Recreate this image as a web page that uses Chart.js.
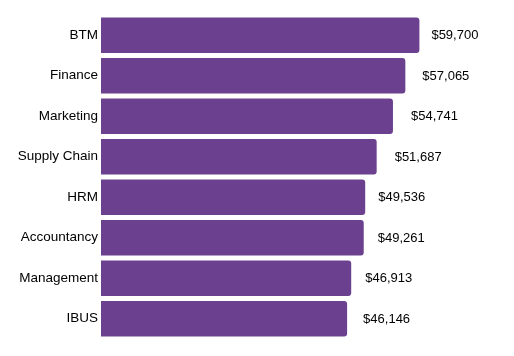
<!DOCTYPE html>
<html>
<head>
<meta charset="utf-8">
<script src="https://cdn.jsdelivr.net/npm/chart.js@4"></script>
<style>
html,body{margin:0;padding:0;background:#fff;}
#wrap{width:514px;height:356px;position:relative;}
</style>
</head>
<body>
<div id="wrap"><canvas id="c" width="514" height="356"></canvas></div>
<script>
const categories = ["BTM", "Finance", "Marketing", "Supply Chain", "HRM", "Accountancy", "Management", "IBUS"];
const salaries = [59700, 57065, 54741, 51687, 49536, 49261, 46913, 46146];
const valueLabels = ["$59,700", "$57,065", "$54,741", "$51,687", "$49,536", "$49,261", "$46,913", "$46,146"];

const FONT = "'Liberation Sans', Arial, sans-serif";

const valuePlugin = {
  id: 'valueLabels',
  afterDatasetsDraw(chart, args, opts) {
    const ctx = chart.ctx;
    const meta = chart.getDatasetMeta(0);
    ctx.save();
    ctx.font = "13px " + FONT;
    ctx.fillStyle = "#000";
    ctx.textAlign = "left";
    ctx.textBaseline = "middle";
    meta.data.forEach((bar, i) => {
      const off = (opts.offsets && opts.offsets[i] != null) ? opts.offsets[i] : 15;
      ctx.fillText(valueLabels[i], bar.x + off, bar.y + 0.5);
    });
    ctx.restore();
  }
};

new Chart(document.getElementById('c'), {
  type: 'bar',
  data: {
    labels: categories,
    datasets: [{
      data: salaries,
      backgroundColor: '#6a408f',
      borderRadius: 3,
      borderSkipped: 'start',
      categoryPercentage: 1,
      barPercentage: 0.88
    }]
  },
  options: {
    indexAxis: 'y',
    responsive: false,
    animation: false,
    layout: { padding: { top: 15, bottom: 17, right: 93, left: 0 } },
    plugins: {
      legend: { display: false },
      tooltip: { enabled: false },
      valueLabels: { offsets: [12, 17, 18, 18, 13, 14, 14, 16] }
    },
    scales: {
      x: { display: false, min: 0, max: 60000 },
      y: {
        grid: { display: false, drawTicks: false },
        border: { display: false },
        ticks: { color: '#000', padding: 3, font: { family: FONT, size: 13.5 } },
        afterFit(scale) { scale.width = 101; }
      }
    }
  },
  plugins: [valuePlugin]
});
</script>
</body>
</html>
